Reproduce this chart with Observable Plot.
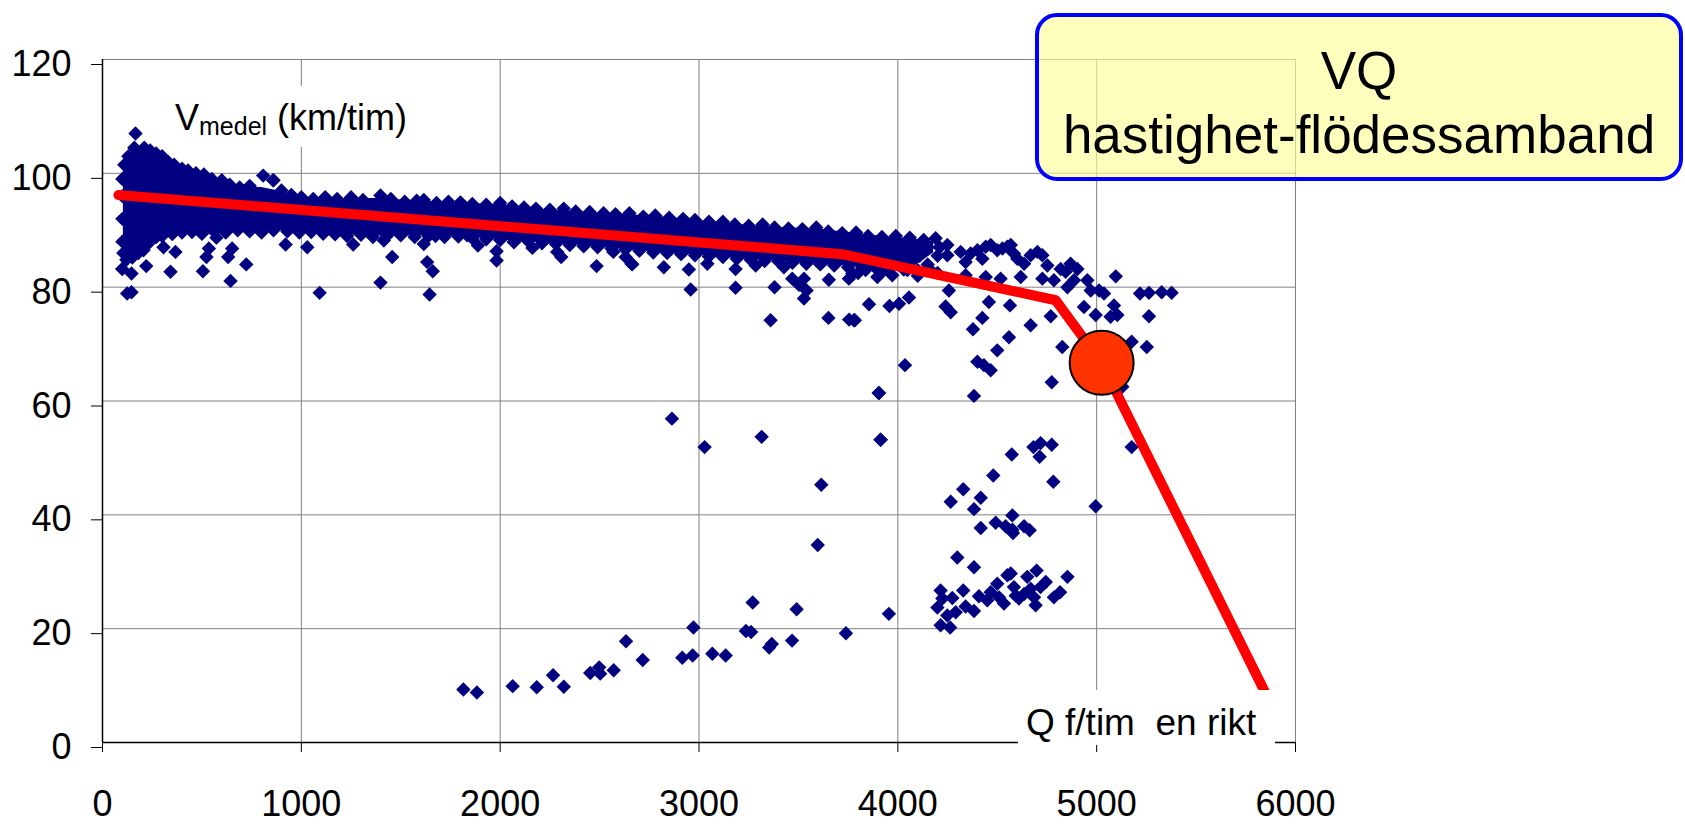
<!DOCTYPE html>
<html><head><meta charset="utf-8">
<script src="https://cdn.jsdelivr.net/npm/d3@7"></script>
<script src="https://cdn.jsdelivr.net/npm/@observablehq/plot@0.6"></script>
<style>
body{margin:0;background:#fff;font-family:"Liberation Sans",Arial,sans-serif;}
#wrap{position:relative;width:1685px;height:824px;overflow:hidden;background:#fff}
.lbl{position:absolute;background:#fff;color:#000;white-space:pre;}
.lbl span.t{position:absolute;line-height:1;}
#callout{position:absolute;left:1035px;top:13px;width:648px;height:168px;border:4px solid #0000ff;border-radius:22px;background:rgba(255,255,153,0.65);text-align:center;font-size:53px;line-height:64px;padding-top:22px;box-sizing:border-box;color:#000}
</style></head><body><div id="wrap"></div>
<script>
// axis ticks
const xTicks = [0, 1000, 2000, 3000, 4000, 5000, 6000];
const yTicks = [0, 20, 40, 60, 80, 100, 120];

// dense core of the scatter (Q, lower V, upper V)
const bandQ  = [105,150,200,250,300,350,400,500,600,700,800,900,1000,1200,1400,1600,1800,2000,2200,2400,2600,2800,3000,3200,3400,3600,3800,3950,4060,4180];
const bandHi = [101,104,103.8,103.5,102.8,101.7,100.8,99.8,98.7,97.6,97.5,96.8,95.7,95.6,95.6,95.1,94.8,94.5,93.7,93.2,92.8,92.4,91.7,91,90.5,90.2,89.4,88.8,88.5,88];
const bandLo = [86,85.2,86.5,88,89,89.4,89.6,89.5,89.7,89.9,89.6,89.9,89.6,89.2,89,89,88.9,88.3,87.8,87.3,86.7,86.1,85.6,85,84.5,84,83.6,83.3,83.1,86];

// measured points on the upper edge of the cloud [Q, V]
const topEdge = [[100,88],[100,92],[100,96],[100,99],[110,101.5],[130,103],[160,104.5],[166,107],[190,103.5],[210,104.5],[240,104],[270,103.5],[300,103],[330,102],[360,101.5],[400,100.8],[430,100.5],[470,100],[510,99.8],[550,99],[600,98.8],[640,98],[690,97.5],[740,97.8],[808,99.6],[860,98.8],[900,97],[950,96.2],[1000,95.8],[1060,95.5],[1120,95.8],[1180,95.5],[1250,95.8],[1310,95.3],[1398,96.1],[1450,95.5],[1520,95],[1580,95.2],[1616,95.3],[1680,94.8],[1740,95],[1800,94.9],[1860,94.6],[1930,94.5],[2000,94.8],[2060,94.2],[2120,94],[2180,93.8],[2250,93.6],[2320,93.8],[2380,93.3],[2450,93.2],[2520,93],[2580,92.8],[2650,93],[2720,92.4],[2780,92.6],[2850,92.2],[2920,92],[2980,91.8],[3050,91.5],[3120,91.5],[3180,91],[3250,90.8],[3320,91],[3380,90.5],[3450,90.3],[3520,90.2],[3590,90.5],[3650,89.8],[3720,89.5],[3790,89.6],[3850,89],[3920,88.8],[3990,89],[4060,88.7],[4130,88.3],[4190,88.6]];

// measured points on the lower edge of the cloud [Q, V]
const lowEdge = [[105,86],[120,84.8],[150,85.2],[180,86],[210,87],[240,88],[270,88.8],[300,89],[350,89.4],[400,89.6],[450,89.7],[500,89.4],[560,89.8],[620,89.6],[680,90],[740,89.8],[800,89.6],[860,90],[930,89.8],[990,89.6],[1050,89.7],[1110,89.4],[1170,89.3],[1230,89],[1300,89.2],[1360,88.8],[1430,89],[1500,89.1],[1570,88.8],[1640,89],[1720,88.8],[1790,88.9],[1860,88.6],[1930,88.4],[2000,88.3],[2070,88],[2140,88.1],[2210,87.7],[2280,87.6],[2350,87.4],[2420,87.2],[2490,87],[2560,86.8],[2630,86.6],[2700,86.4],[2770,86.1],[2840,86],[2910,85.8],[2980,85.6],[3050,85.4],[3120,85.3],[3190,85],[3260,84.8],[3330,84.6],[3400,84.5],[3470,84.3],[3540,84.1],[3610,84],[3680,83.8],[3750,83.5],[3820,83.6],[3890,83.3],[3960,83.3],[4030,83.1],[4100,83],[4170,82.8],[4200,85.5],[4210,87],[4110,85.5],[4150,87],[4080,86.5]];

// scattered individual observations [Q, V]
const loose = [[99,83.2],[146,82.4],[342,82.7],[505,82.8],[644,81.1],[723,84],[124,78.9],[146,79.1],[1092,79],[921,87.5],[1030,87],[352,89.4],[367,86.2],[535,86.8],[523,85.3],[632,85.3],[652,86.8],[573,88.7],[220,83.7],[206,86.5],[307,87],[858,98.8],
[1261,87.5],[1415,88.2],[1457,85.3],[1398,80.8],[1616,87.6],[1633,84.4],[1661,82.8],[1645,78.7],[1675,89],[1834,89.1],[1888,87.3],[1982,86.3],[1982,84.7],[2069,87.9],[2162,86.9],[2287,86.2],[2307,85.3],[2485,83.7],[2569,86.2],[2631,85.3],[2661,84.1],
[2664,84],[2823,83.5],[2949,83.1],[2958,79.6],[3042,84.1],[3184,83.2],[3184,79.9],[3285,83.8],[3380,80],[3427,83.5],[3469,81.5],[3528,81.5],[3503,80.4],[3541,79.4],[3528,78],[3653,81.3],[3360,74.2],[3651,74.6],[3754,81.5],[3771,82.4],[3838,83],[3855,77],[3958,76.7],[4006,77.1],[4056,78.2],[3755,74.3],[3784,74.2],[3897,81.8],[3972,82.1],[4048,83],[3800,82.5],[3930,83],[4100,82],[4150,84],[4200,82.5],
[4249,87.4],[4249,85.6],[4316,86.2],[4341,84.4],[4366,85.9],[4400,86.5],[4425,85],[4442,87.1],[4467,87.4],[4500,86.5],[4526,86.8],[4551,87.1],[4568,87.4],[4584,85.9],[4601,85],[4635,84.1],[4668,85.6],[4702,86.2],[4727,85.6],[4752,83.8],[4819,83.2],[4844,82.7],[4869,84.1],[4903,83.2],[4886,81.2],[4853,80],[4785,81.2],[4727,81.5],[4618,81.8],[4517,81.5],[4442,81.8],[4341,82.1],[4257,79.4],[4953,81.2],[4970,79.4],[5012,79.4],[5037,78.9],[4936,76.5],[4995,75.1],[5087,76.8],[5104,75.1],[5070,74.8],[5096,81.9],[5218,78.9],[5263,79],[5327,79.1],[5377,79],[5263,74.9],[5252,69.5],[5176,70.4],[5129,62.5],[5176,51.9],[4995,41.5],
[4769,74.9],[4668,73.3],[4827,69.5],[4774,63.3],[4559,71.2],[4500,68.9],[4425,74.6],[4458,77.4],[4564,76.8],[4378,72.6],[4400,66.9],[4433,66.3],[4467,65.4],[4383,60.9],[4036,66.3],[3905,61.4],[3914,53.2],[3779,74.2],[4240,76.6],[4266,75.6],
[4682,51.9],[4718,52.6],[4774,52.3],[4573,50.6],[4713,50.2],[4782,45.8],[4480,46.9],[4329,44.5],[4417,43],[4266,42.3],[4383,41],[4576,39.9],[4492,38.6],[4542,38],[4579,36.8],[4576,37.4],[4635,38],[4663,37.3],[4417,37.7],[4299,32.5],[4383,30.8],[3955,22.6],[4215,20.6],[4263,20.2],
[4215,26.7],[4224,25.3],[4199,23.7],[4249,22.3],[4274,25.4],[4291,22.9],[4329,26.7],[4341,23.9],[4383,23.1],[4408,25.7],[4450,25],[4467,26.4],[4500,27.9],[4509,25.5],[4534,24.4],[4551,29.4],[4568,29.7],[4584,27.3],[4593,25.8],[4609,25.3],[4635,26.1],[4651,29.1],[4668,27],[4685,25.5],[4693,24.1],[4698,30.2],[4718,27.3],[4744,28.2],[4785,25.5],[4816,26.4],[4853,29.1],
[1815,9.3],[1883,8.8],[2063,9.9],[2184,9.7],[2266,11.8],[2320,9.8],[2453,12.2],[2498,13.2],[2503,12.1],[2571,12.7],[2633,17.8],[2717,14.5],[2916,14.9],[2968,15.3],[2972,20.2],[3067,15.6],[3134,15.3],[3236,19.6],[3262,19.4],[3270,24.6],[3353,16.7],[3366,17.3],[3468,17.9],[3491,23.4],[3739,19.2],[3597,34.7],[3615,45.3],[3028,51.9],[2864,56.9],[3315,53.7],[3913,53.2],[3904,61.4]];

// red VQ relation and marked capacity point
const curveQ = [80, 3720, 4794, 5025, 5850];
const curveV = [96.2, 85.8, 77.7, 66.7, 8.6];
const capQ = [5025];
const capV = [66.7];

const band = bandQ.map((q, i) => ({q, lo: bandLo[i], hi: bandHi[i]}));
const pts = [...topEdge, ...lowEdge, ...loose].map(([q, v]) => ({q, v}));
const curve = curveQ.map((q, i) => ({q, v: curveV[i]}));
const cap = capQ.map((q, i) => ({q, v: capV[i]}));

const navy = "#000080";
const chart = Plot.plot({
  width: 1685, height: 824,
  marginLeft: 102, marginRight: 390, marginTop: 59, marginBottom: 82,
  x: {domain: [0, 6000]},
  y: {domain: [0, 120]},
  style: {fontFamily: "'Liberation Sans', Arial, sans-serif", fontSize: "36px", color: "#000", background: "transparent", overflow: "visible"},
  marks: [
    Plot.gridX(xTicks, {stroke: "#808080", strokeOpacity: 1, strokeWidth: 1}),
    Plot.gridY(yTicks, {stroke: "#808080", strokeOpacity: 1, strokeWidth: 1}),
    Plot.areaY(band, {x: "q", y1: "lo", y2: "hi", fill: navy}),
    Plot.dot(pts, {x: "q", y: "v", symbol: "diamond2", r: 6.5, fill: navy, stroke: "none"}),
    Plot.ruleY([0], {stroke: "#000", strokeWidth: 1.5}),
    Plot.ruleX([0], {stroke: "#000", strokeWidth: 1.5}),
    Plot.axisX(xTicks, {tickSize: 10, tickPadding: 38, fontSize: 36, tickFormat: d => String(d), label: null}),
    Plot.axisY(yTicks, {tickSize: 11, tickPadding: 20, dy: 5, fontSize: 36, tickFormat: d => String(d), label: null}),
    Plot.line(curve, {x: "q", y: "v", stroke: "#ff0000", strokeWidth: 10, strokeLinejoin: "round"}),
    Plot.dot(cap, {x: "q", y: "v", r: 32, fill: "#ff3300", stroke: "#000", strokeWidth: 2})
  ]
});
const wrap = document.getElementById("wrap");
chart.style.position = "absolute";
chart.style.left = "0px";
chart.style.top = "0px";
wrap.appendChild(chart);

// axis titles placed inside the plot with white backgrounds
const vLab = document.createElement("div");
vLab.className = "lbl";
vLab.style.cssText = "left:163px;top:86px;width:262px;height:61px;";
vLab.innerHTML = '<span class="t" style="left:12px;top:13.5px;font-size:36px;">V<span style="font-size:25px;position:relative;top:5px;">medel</span> (km/tim)</span>';
wrap.appendChild(vLab);

const qLab = document.createElement("div");
qLab.className = "lbl";
qLab.style.cssText = "left:1018px;top:690px;width:257px;height:55px;";
qLab.innerHTML = '<span class="t" style="left:8px;top:14px;font-size:37px;">Q f/tim  en rikt</span>';
wrap.appendChild(qLab);

const call = document.createElement("div");
call.id = "callout";
call.innerHTML = "VQ<br>hastighet-flödessamband";
wrap.appendChild(call);
</script>
</body></html>
